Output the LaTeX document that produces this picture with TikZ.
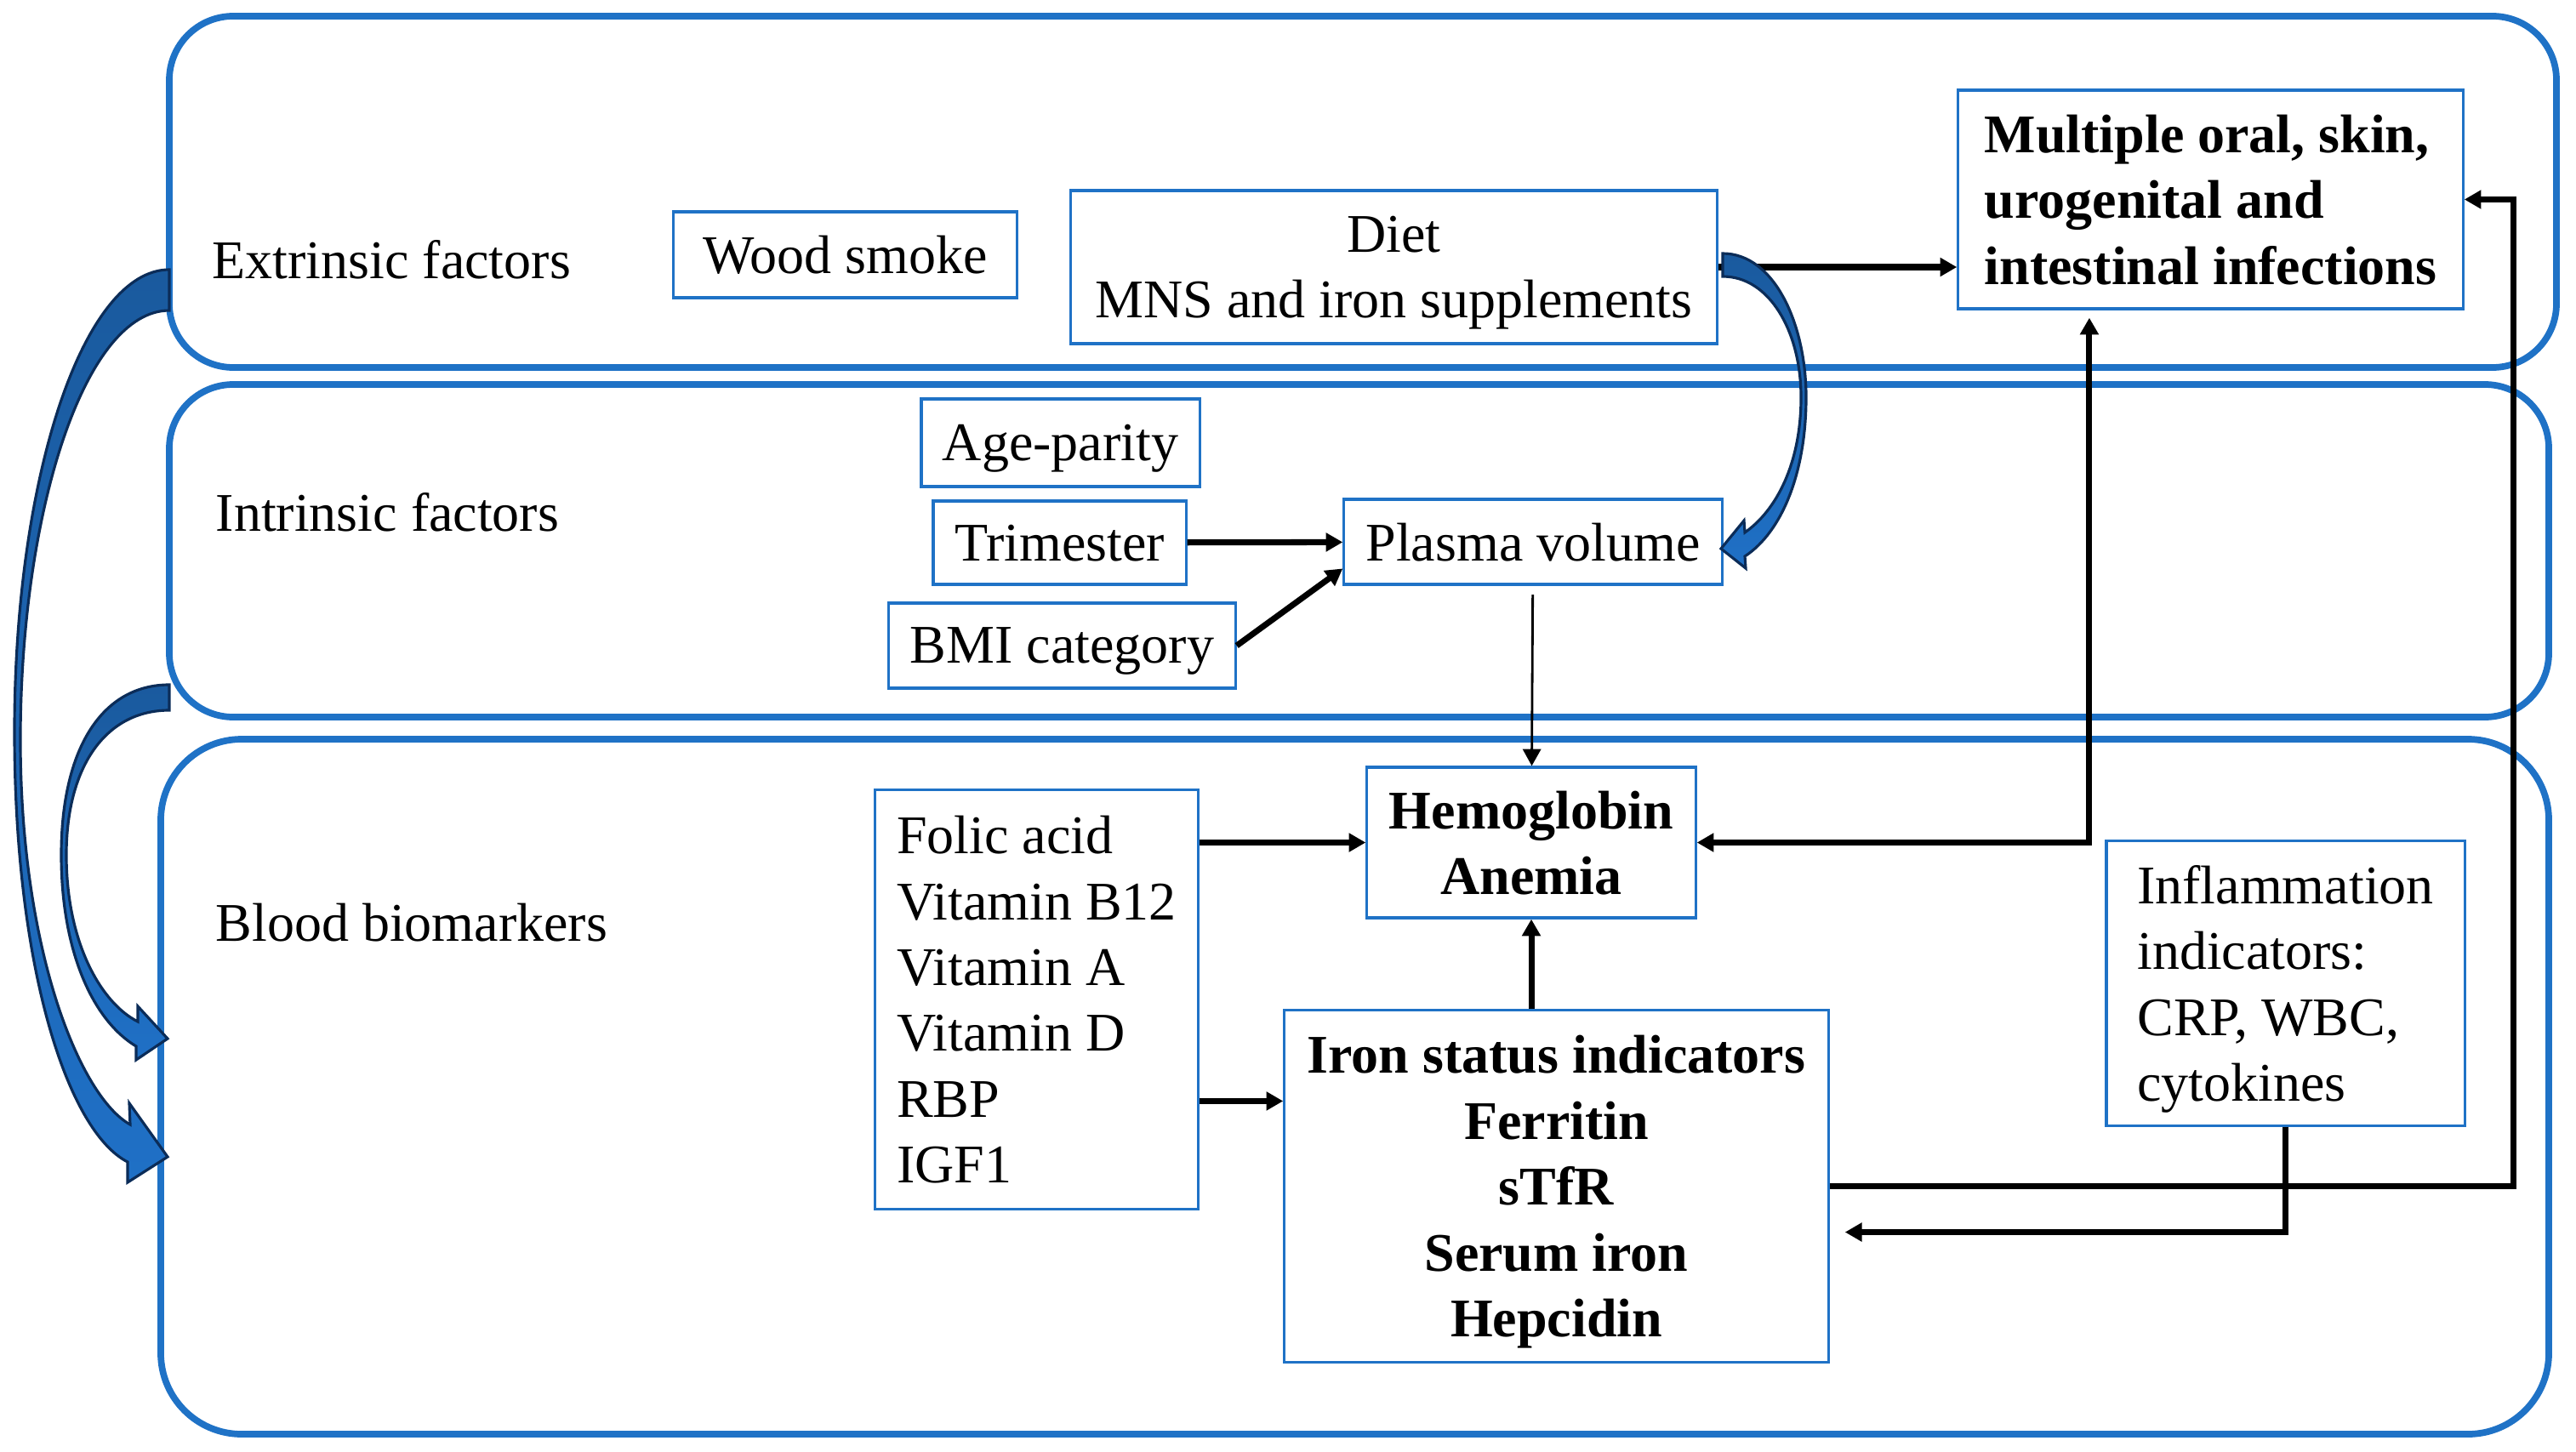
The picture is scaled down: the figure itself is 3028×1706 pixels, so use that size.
\documentclass[tikz,border=0pt]{standalone}
\usepackage{fontspec}
\setmainfont{Liberation Serif}
\usetikzlibrary{arrows.meta}
\definecolor{bandblue}{HTML}{1F72C6}
\definecolor{arrdark}{HTML}{1A5A9E}
\definecolor{arrlight}{HTML}{1F70C6}
\definecolor{arrline}{HTML}{0B2C58}

\begin{document}
\begin{tikzpicture}[x=0.01cm,y=-0.01cm,>={Triangle[length=5.6pt,width=6pt]},
  font=\fontsize{18.2}{22}\selectfont,
  band/.style={draw=bandblue,line width=2.2pt,rounded corners=0.75cm},
  side text/.style={anchor=west,inner sep=0pt},
  box node/.style={draw=bandblue,line width=0.9pt,inner sep=0pt,align=center,text depth=0pt},
  bold node/.style={box node,font=\fontsize{18.2}{22}\selectfont\bfseries},
  conn/.style={->,line width=2pt},
  block arrow/.style={draw=arrline,line width=0.9pt,top color=arrdark,bottom color=arrlight}]
  \useasboundingbox (0,0) rectangle (3028,1706);

  % the three bands
  \draw[band] (199,19) rectangle (3005,432);
  \draw[band] (199,452) rectangle (2996,843);
  \draw[band,rounded corners=0.95cm] (189,869) rectangle (2996,1686);
  \node[side text] (ext) at (249,305) {Extrinsic factors};
  \node[side text] (int) at (253,602) {Intrinsic factors};
  \node[side text] (blood) at (253,1085) {Blood biomarkers};

  % boxes
  \node[box node,minimum width=4.03cm,minimum height=1.01cm] (wood) at (993.5,299.5) {Wood smoke};
  \node[box node,minimum width=7.59cm,minimum height=1.80cm] (diet) at (1638.5,314) {Diet\\MNS and iron supplements};
  \node[bold node,align=left,minimum width=5.93cm,minimum height=2.57cm] (infect) at (2598.5,234.5) {Multiple oral, skin,\\urogenital and\\intestinal infections};
  \node[box node,minimum width=3.27cm,minimum height=1.03cm] (age) at (1246.5,520.5) {Age-parity};
  \node[box node,minimum width=2.97cm,minimum height=0.98cm] (trim) at (1245.5,638) {Trimester};
  \node[box node,minimum width=4.07cm,minimum height=1.00cm] (bmi) at (1248.5,759) {BMI category};
  \node[box node,minimum width=4.44cm,minimum height=1.00cm] (plasma) at (1802,637) {Plasma volume};
  \node[bold node,minimum width=3.86cm,minimum height=1.77cm] (hb) at (1800,990.5) {Hemoglobin\\Anemia};
  \node[box node,align=left,minimum width=3.79cm,minimum height=4.92cm] (vit) at (1218.5,1175) {Folic acid\\Vitamin B12\\Vitamin A\\Vitamin D\\RBP\\IGF1};
  \node[bold node,minimum width=6.39cm,minimum height=4.13cm] (iron) at (1829.5,1394.5) {Iron status indicators\\Ferritin\\sTfR\\Serum iron\\Hepcidin};
  \node[box node,align=left,minimum width=4.21cm,minimum height=3.34cm] (inflam) at (2686.5,1156) {Inflammation\\indicators:\\CRP, WBC,\\cytokines};

  % connectors
  \path (trim) edge[conn] (plasma)
    (bmi.east) edge[conn] (plasma.188)
    (plasma) edge[->,line width=0.8pt,shorten <=3pt] (hb);
  \draw[conn] (diet.east) -- (infect.west |- diet.east);
  \draw[conn] (vit.east |- hb.west) -- (hb.west);
  \draw[conn] ([yshift=1cm]vit.east |- iron.west) -- ([yshift=1cm]iron.west);
  \draw[conn] (hb.south |- iron.north) -- (hb.south);
  \draw[conn,<->] (hb.east) -| ([xshift=-1.425cm,yshift=-0.09cm]infect.south);
  \draw[conn] (iron.east) -| ([xshift=0.58cm]infect.east) -- (infect.east);
  \draw[conn] (inflam.south) |- ([xshift=0.18cm,yshift=-0.54cm]iron.east);

  % curved block arrows
  \draw[block arrow] (199,317) .. controls (98,317) and (17,560) .. (17,860)
    .. controls (17,1140) and (80,1330) .. (150,1366)
    -- (150,1390) -- (197,1360) -- (152,1297) -- (153,1322)
    .. controls (95,1290) and (24,1120) .. (24,870)
    .. controls (24,600) and (100,365) .. (199,365) -- cycle;
  \draw[block arrow] (199,805) .. controls (120,805) and (72,880) .. (72,1005)
    .. controls (72,1120) and (110,1200) .. (160,1230)
    -- (160,1246) -- (197,1221) -- (162,1183) -- (162,1201)
    .. controls (120,1180) and (78,1110) .. (78,1005)
    .. controls (78,900) and (125,835) .. (199,835) -- cycle;
  \draw[block arrow] (2025,298) .. controls (2085,298) and (2123,380) .. (2123,467)
    .. controls (2123,555) and (2095,625) .. (2051,654)
    -- (2052,668) -- (2023,645) -- (2050,612) -- (2051,626)
    .. controls (2088,600) and (2117,545) .. (2117,467)
    .. controls (2117,390) and (2080,325) .. (2025,325) -- cycle;
\end{tikzpicture}
\end{document}
